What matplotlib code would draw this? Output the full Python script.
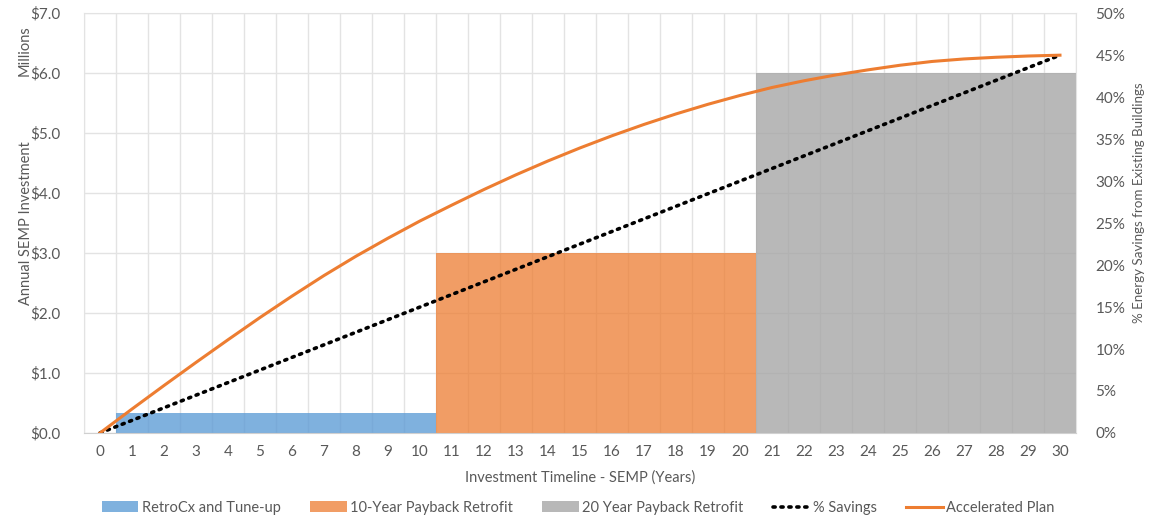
import numpy as np
import matplotlib.pyplot as plt
from matplotlib.lines import Line2D
from matplotlib.patches import Patch

plt.rcParams['font.family'] = ['Lato', 'DejaVu Sans']

years = np.arange(0, 31)
# annual investment, $ millions
retrocx = [0.33] * 10
payback10 = [3.0] * 10
payback20 = [6.0] * 10
savings_pct = [1.5 * y for y in years]  # % savings line, 0 -> 45
accel_pct = [0, 2.85, 5.65, 8.4, 11.1, 13.75, 16.3, 18.75, 21.05, 23.2, 25.25,
             27.15, 29.0, 30.75, 32.4, 33.95, 35.4, 36.75, 38.0, 39.15, 40.2,
             41.15, 41.95, 42.65, 43.25, 43.8, 44.25, 44.55, 44.75, 44.9, 45.0]

grey_txt = '#595959'
grid_c = '#E3E3E3'
fs = 10.5

fig = plt.figure(figsize=(11.52, 5.28), dpi=100)
ax = fig.add_axes([0.0729, 0.18, 0.8611, 0.795])

ax.bar(years[1:11], retrocx, width=1.0, color='#5B9BD5', alpha=0.78, zorder=2)
ax.bar(years[11:21], payback10, width=1.0, color='#ED7D31', alpha=0.75, zorder=2)
ax.bar(years[21:31], payback20, width=1.0, color='#A5A5A5', alpha=0.78, zorder=2)

ax.set_xlim(-0.5, 30.5)
ax.set_ylim(0, 7)
ax.set_yticks(np.arange(0, 8))
ax.set_yticklabels(['${:.1f}'.format(v) for v in range(8)])
ax.set_xticks(years)
ax.set_xticks(np.arange(-0.5, 31, 1), minor=True)
ax.grid(axis='y', color=grid_c, lw=1, zorder=0)
ax.grid(axis='x', which='minor', color=grid_c, lw=1, zorder=0)
ax.tick_params(which='both', length=0, colors=grey_txt, labelsize=fs + 0.5)
ax.tick_params(axis='y', pad=17)
ax.tick_params(axis='x', pad=9)
for s in ['top', 'left', 'right']:
    ax.spines[s].set_color(grid_c)
ax.spines['bottom'].set_color('#D0D0D0')

ax.set_xlabel('Investment Timeline - SEMP (Years)', color=grey_txt, fontsize=fs, labelpad=8)
ax.set_ylabel('Annual SEMP Investment', color=grey_txt, fontsize=fs)
ax.yaxis.set_label_coords(-0.0515, 0.50)
fig.text(0.0215, 0.905, 'Millions', rotation=90, color=grey_txt, fontsize=fs,
         ha='center', va='center')

ax2 = ax.twinx()
ax2.set_ylim(0, 50)
ax2.set_yticks(np.arange(0, 55, 5))
ax2.set_yticklabels(['{}%'.format(v) for v in range(0, 55, 5)])
ax2.tick_params(length=0, colors=grey_txt, labelsize=fs + 0.5, pad=14)
for s in ax2.spines.values():
    s.set_visible(False)
ax2.plot(years, savings_pct, color='black', lw=2.6, linestyle=(0, (0.6, 1.6)),
         dash_capstyle='round', zorder=3)
ax2.plot(years, accel_pct, color='#ED7D31', lw=2.2, zorder=4, solid_joinstyle='round')
ax2.set_ylabel('% Energy Savings from Existing Buildings', color=grey_txt, fontsize=9.6)
ax2.yaxis.set_label_coords(1.0575, 0.548)

handles = [
    Patch(facecolor='#5B9BD5', alpha=0.78),
    Patch(facecolor='#ED7D31', alpha=0.75),
    Patch(facecolor='#A5A5A5', alpha=0.78),
    Line2D([], [], color='black', lw=2.6, linestyle=(0, (0.6, 1.6)), dash_capstyle='round'),
    Line2D([], [], color='#ED7D31', lw=2.2),
]
labels = ['RetroCx and Tune-up', '10-Year Payback Retrofit', '20 Year Payback Retrofit',
          '% Savings', 'Accelerated Plan']
leg = fig.legend(handles, labels, loc='center', bbox_to_anchor=(0.502, 0.038), ncol=5,
                 frameon=False, fontsize=fs, columnspacing=2.0, handlelength=2.5,
                 handleheight=0.8, handletextpad=0.25)
for t in leg.get_texts():
    t.set_color(grey_txt)

fig.savefig('out.png', dpi=100)
